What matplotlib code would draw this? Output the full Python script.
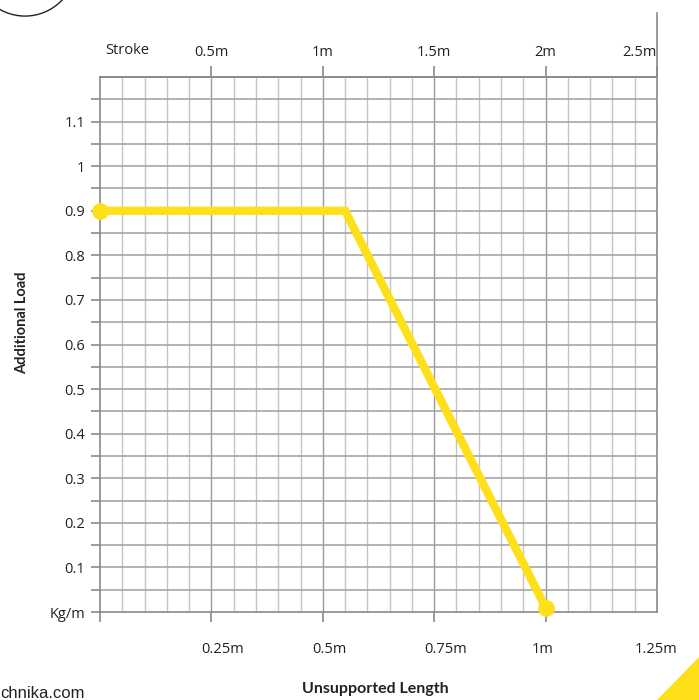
import matplotlib
matplotlib.use("Agg")
import matplotlib.pyplot as plt
from matplotlib.patches import Circle, Polygon
from matplotlib.lines import Line2D
import matplotlib.transforms as mtransforms
import numpy as np

# ---- data ----
length_m = [0.0, 0.55, 1.0]          # unsupported length (m)
load_kg = [0.9, 0.9, 0.01]           # additional load (kg/m)

bottom_tick_vals = [0.25, 0.5, 0.75, 1.0, 1.25]
bottom_tick_labels = ["0.25m", "0.5m", "0.75m", "1m", "1.25m"]
top_tick_vals = [0.5, 1.0, 1.5, 2.0, 2.5]          # stroke (m) = 2 x length
top_tick_labels = ["0.5m", "1m", "1.5m", "2m", "2.5m"]
y_tick_vals = [0.0, 0.1, 0.2, 0.3, 0.4, 0.5, 0.6, 0.7, 0.8, 0.9, 1.0, 1.1]
y_tick_labels = ["Kg/m", "0.1", "0.2", "0.3", "0.4", "0.5", "0.6", "0.7", "0.8", "0.9", "1", "1.1"]

YELLOW = "#FEE01A"
GRID_V = "#c4c4c4"
GRID_H = "#a6a6a6"
AXC = "#8a8a8a"
TXT = "#222222"
TICKFONT = "Open Sans"
BOLDFONT = "Lato"

fig = plt.figure(figsize=(6.99, 7.0), dpi=100)
W, H = 699, 700
ax = fig.add_axes([100 / W, 1 - 612 / H, 557 / W, 535 / H])
ax.set_xlim(0, 1.25)
ax.set_ylim(0, 1.2)

# grid lines
for k in range(1, 25):
    xv = k * 0.05
    c = "#9a9a9a" if k % 5 == 0 else GRID_V
    ax.axvline(xv, color=c, lw=1.0, zorder=1)
for k in range(1, 24):
    ax.axhline(k * 0.05, color=GRID_H, lw=1.2, zorder=1)

for s in ["left", "bottom", "top", "right"]:
    ax.spines[s].set_color(AXC)
    ax.spines[s].set_linewidth(1.2)
ax.spines["right"].set_visible(False)
# extended right border
ax.add_line(Line2D([1, 1], [0, 1 + (77 - 13) / 535], transform=ax.transAxes,
                   color=AXC, lw=1.2, clip_on=False, zorder=3))

# y ticks: marks every 0.05, labels every 0.1
ax.set_yticks(np.arange(0, 1.2, 0.05), minor=True)
ax.set_yticks(y_tick_vals)
ax.set_yticklabels(y_tick_labels, fontfamily=TICKFONT, fontsize=10.5, color=TXT)
ax.tick_params(axis="y", which="both", length=6.5, width=1.2, color=AXC, pad=4)

# bottom ticks
ax.set_xticks([0.0] + bottom_tick_vals)
ax.set_xticklabels([""] + bottom_tick_labels, fontfamily=TICKFONT, fontsize=10.5, color=TXT)
ax.tick_params(axis="x", which="major", length=7.5, width=1.2, color=AXC, pad=14)
ax.xaxis.get_major_ticks()[-1].tick1line.set_visible(False)
offsets_pt = [0, 8, 5, 8, -2, -1]
for lab, dx in zip(ax.get_xticklabels(), offsets_pt):
    lab.set_transform(lab.get_transform() + mtransforms.ScaledTranslation(dx / 72, 0, fig.dpi_scale_trans))

# top (stroke) axis
sec = ax.secondary_xaxis("top", functions=(lambda x: 2 * x, lambda x: x / 2))
sec.set_xticks(top_tick_vals)
sec.set_xticklabels(top_tick_labels, fontfamily=TICKFONT, fontsize=10.5, color=TXT)
sec.tick_params(axis="x", length=8, width=1.2, color=AXC, pad=4)
sec.spines["top"].set_color(AXC)
sec.spines["top"].set_linewidth(1.2)
top_labs = sec.get_xticklabels()
top_labs[-1].set_horizontalalignment("right")
ax.text(127 / W, 1 - 51 / H, "Stroke", transform=fig.transFigure, ha="center", va="center",
        fontfamily=TICKFONT, fontsize=10.5, color=TXT)

# data line
ax.plot(length_m, load_kg, color=YELLOW, lw=6, solid_joinstyle="miter", zorder=5, clip_on=False)
ax.plot([length_m[0], length_m[-1]], [load_kg[0], load_kg[-1]], "o", color=YELLOW, ms=11,
        zorder=6, clip_on=False)

# axis titles
fig.text(22 / W, 1 - 323 / H, "Additional Load", rotation=90, ha="center", va="center",
         fontfamily=BOLDFONT, fontweight="bold", fontsize=10.5, color=TXT)
fig.text(375 / W, 1 - 689 / H, "Unsupported Length", ha="center", va="center",
         fontfamily=BOLDFONT, fontweight="bold", fontsize=11.5, color=TXT)

# decorations
fig.patches.append(Circle((25 / W, 1 + 35 / H), 51 / W, transform=fig.transFigure,
                          fill=False, ec="#222222", lw=1.0))
fig.text(0 / W, 1 - 698 / H, "chnika.com", ha="left", va="baseline",
         fontfamily="Liberation Sans", fontsize=12, color=TXT)
fig.patches.append(Polygon([(657 / W, 0), (1, 0), (1, 1 - 657 / H)], closed=True,
                           transform=fig.transFigure, color=YELLOW, lw=0))

fig.savefig("out.png", dpi=100)
